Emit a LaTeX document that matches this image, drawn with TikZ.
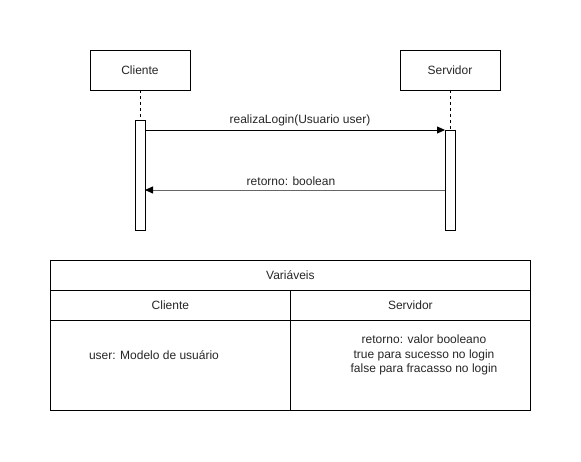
\documentclass[tikz,border=0pt]{standalone}
\usepackage{fontspec}
\setmainfont{Liberation Sans}
\usetikzlibrary{arrows.meta}
\begin{document}
\begin{tikzpicture}[x=1pt,y=-1pt,
  every node/.style={font=\fontsize{12}{14}\selectfont, text=black!85},
  actor/.style={draw, line width=0.8pt, fill=white, minimum width=100pt, minimum height=40pt, inner sep=0pt},
  actbar/.style={draw, line width=0.8pt, fill=white, minimum width=10pt, inner sep=0pt},
  life/.style={dash pattern=on 3pt off 3pt, line width=0.8pt},
  msg/.style={line width=0.8pt, -{Triangle[length=8pt,width=7pt]}},
  ret/.style={line width=0.8pt, draw=black!60, -{Triangle[length=8pt,width=7pt,fill=black,color=black]}},
  cell/.style={draw, line width=0.8pt, inner sep=0pt, anchor=north west},
  txt/.style={inner sep=0pt}
]
\useasboundingbox (0,0) rectangle (581,462);
% actors
\node[actor] (cli) at (140,70) {Cliente};
\node[actor] (srv) at (450,70) {Servidor};
% activations
\node[actbar, minimum height=110pt] (acli) at (140,175) {};
\node[actbar, minimum height=100pt] (asrv) at (450,180) {};
% lifelines
\draw[life] (cli.south) -- (acli.north);
\draw[life] (srv.south) -- (asrv.north);
% messages
\coordinate (m1s) at (145,130);
\coordinate (m1e) at (445,130);
\draw[msg] (m1s) -- (m1e);
\node[txt] (m1l) at (300,120) {realizaLogin(Usuario user)};
\coordinate (m2s) at (445,190);
\coordinate (m2e) at (145,190);
\draw[ret] (m2s) -- (m2e);
\node[txt] (m2l) at (291,181) {retorno: boolean};
% table
\node[cell, minimum width=480pt, minimum height=30pt] (th) at (50,260) {};
\node[txt] (tht) at (th.center) {Variáveis};
\node[cell, minimum width=240pt, minimum height=30pt] (hc) at (50,290) {};
\node[txt] (hct) at (hc.center) {Cliente};
\node[cell, minimum width=240pt, minimum height=30pt] (hs) at (290,290) {};
\node[txt] (hst) at (hs.center) {Servidor};
\node[cell, minimum width=240pt, minimum height=90pt] (bc) at (50,320) {};
\node[txt] (bct) at (154,355) {user: Modelo de usuário};
\node[cell, minimum width=240pt, minimum height=90pt] (bs) at (290,320) {};
\node[txt, align=center, font=\fontsize{12}{14.3}\selectfont] (bst) at (424,355) {retorno: valor booleano\\true para sucesso no login\\false para fracasso no login};
\end{tikzpicture}
\end{document}
